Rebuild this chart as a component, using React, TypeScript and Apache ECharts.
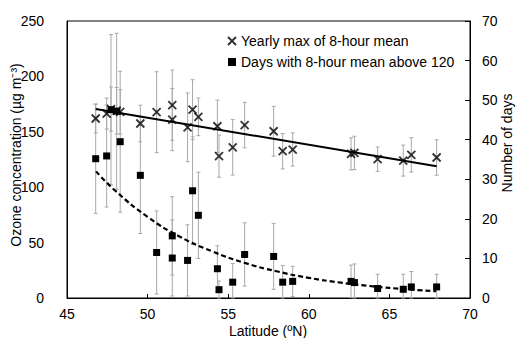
import React, { useEffect, useRef } from "react";
import * as echarts from "echarts";

// Station latitudes (°N)
const latitude = [46.78, 47.46, 47.73, 48.08, 48.3, 49.55, 50.56, 51.53, 51.53, 52.48, 52.79, 53.15, 54.33, 54.43, 55.28, 56.02, 57.82, 58.38, 59.0, 62.62, 62.83, 64.27, 65.86, 66.36, 67.93];
// Yearly max of 8-hour mean (µg m-3) and its error
const yearlyMax = [162, 166.5, 170.5, 169, 168, 157.5, 167.7, 174, 161, 154, 170, 163.5, 155, 128, 136, 156, 150.5, 132.5, 134, 130, 131, 125.3, 124, 129.2, 126.8];
const yearlyMaxErr = [13, 14, 20, 21, 20, 16.5, 36.5, 31.7, 28, 31, 27, 17, 23.6, 19, 25, 20.5, 22.5, 16, 15, 14.5, 15, 11, 14, 15.5, 16];
// Days with 8-hour mean above 120 and its error
const daysAbove = [35.2, 35.9, 47.6, 47.2, 39.5, 31.0, 11.5, 15.7, 10.1, 9.5, 27.1, 20.9, 7.4, 2.1, 4.0, 11.0, 10.5, 4.0, 4.2, 4.2, 3.9, 2.4, 2.2, 2.8, 2.8];
const daysAboveErr = [13.8, 12.9, 19, 19.7, 17.8, 14.7, 10.5, 9.9, 9.6, 9, 13.6, 10.9, 5.8, 2.2, 4.7, 8, 8.3, 4.2, 3.8, 4.1, 4.7, 3.6, 3.8, 3.9, 3.2];
// Linear trend of yearly max
const trendMaxLat = [46.78, 67.93];
const trendMaxVal = [170.5, 119];
// Exponential trend of days
const trendDaysLat = [46.8, 48, 50, 52, 54, 56, 58, 60, 62, 64, 66, 67.9];
const trendDaysVal = [32.0, 27.1, 20.5, 15.5, 11.8, 8.9, 6.75, 5.1, 3.87, 2.93, 2.22, 1.7];

const xTicks = { min: 45, max: 70, interval: 5 };
const leftTicks = { min: 0, max: 250, interval: 50 };
const rightTicks = { min: 0, max: 70, interval: 10 };

const FONT = "'Liberation Sans', Arial, sans-serif";
const NAME_MAX = "Yearly max of 8-hour mean";
const NAME_DAYS = "Days with 8-hour mean above 120";

function errorBarItem(params: any, api: any) {
  const x = api.value(0);
  const y = api.value(1);
  const e = api.value(2);
  const top = api.coord([x, y + e]);
  const bot = api.coord([x, Math.max(0, y - e)]);
  const hw = 2;
  const style = { stroke: "#a8a8a8", lineWidth: 1 };
  return {
    type: "group",
    children: [
      { type: "line", shape: { x1: top[0], y1: top[1], x2: bot[0], y2: bot[1] }, style },
      { type: "line", shape: { x1: top[0] - hw, y1: top[1], x2: top[0] + hw, y2: top[1] }, style },
      { type: "line", shape: { x1: bot[0] - hw, y1: bot[1], x2: bot[0] + hw, y2: bot[1] }, style },
    ],
  };
}

export default function App() {
  const ref = useRef<HTMLDivElement>(null);
  useEffect(() => {
    if (!ref.current) return;
    const chart = echarts.init(ref.current, null, { renderer: "svg" });
    const axisLabel = { fontSize: 14, color: "#000", fontFamily: FONT };
    chart.setOption({
      animation: false,
      backgroundColor: "#fff",
      grid: {
        left: 67, right: 46, top: 21, bottom: 40,
        show: true, borderColor: "#000", borderWidth: 1,
        containLabel: false,
      },
      legend: {
        left: 222, top: 29, orient: "vertical",
        itemWidth: 8, itemHeight: 8, itemGap: 7,
        textStyle: { fontSize: 14, color: "#000", fontFamily: FONT },
        data: [NAME_MAX, NAME_DAYS],
      },
      xAxis: {
        type: "value", ...xTicks,
        axisLine: { lineStyle: { color: "#000", width: 1 } },
        axisTick: { inside: true, length: 4, lineStyle: { color: "#000" } },
        axisLabel: { ...axisLabel, margin: 9 },
        splitLine: { show: false },
      },
      yAxis: [
        {
          type: "value", ...leftTicks,
          axisLine: { show: true, lineStyle: { color: "#000", width: 1 } },
          axisTick: { show: false },
          axisLabel: { ...axisLabel, margin: 23 },
          splitLine: { show: false },
        },
        {
          type: "value", ...rightTicks, position: "right",
          axisLine: { show: true, lineStyle: { color: "#000", width: 1 } },
          axisTick: { show: true, inside: true, length: 5, lineStyle: { color: "#000" } },
          axisLabel: { ...axisLabel, margin: 12 },
          splitLine: { show: false },
        },
      ],
      graphic: [
        { type: "text", x: 16, y: 155, rotation: Math.PI / 2, style: { text: "Ozone concentration (µg m⁻³)", fontSize: 14, fontFamily: FONT, fill: "#000", align: "center", verticalAlign: "middle" } },
        { type: "text", x: 507, y: 143, rotation: Math.PI / 2, style: { text: "Number of days", fontSize: 14, fontFamily: FONT, fill: "#000", align: "center", verticalAlign: "middle" } },
        { type: "text", x: 268, y: 331, style: { text: "Latitude (ºN)", fontSize: 14, fontFamily: FONT, fill: "#000", align: "center", verticalAlign: "middle" } },
      ],
      series: [
        {
          type: "custom", name: "errMax", yAxisIndex: 0, z: 1,
          renderItem: errorBarItem,
          data: latitude.map((x, i) => [x, yearlyMax[i], yearlyMaxErr[i]]),
        },
        {
          type: "custom", name: "errDays", yAxisIndex: 1, z: 1,
          renderItem: errorBarItem,
          data: latitude.map((x, i) => [x, daysAbove[i], daysAboveErr[i]]),
        },
        {
          type: "line", name: "trendMax", yAxisIndex: 0, z: 2,
          showSymbol: false, symbol: "none",
          lineStyle: { color: "#000", width: 2 },
          data: trendMaxLat.map((x, i) => [x, trendMaxVal[i]]),
        },
        {
          type: "line", name: "trendDays", yAxisIndex: 1, z: 2,
          showSymbol: false, symbol: "none", smooth: true,
          lineStyle: { color: "#000", width: 2.2, type: [5, 3] },
          data: trendDaysLat.map((x, i) => [x, trendDaysVal[i]]),
        },
        {
          type: "scatter", name: NAME_MAX, yAxisIndex: 0, z: 3,
          symbol: "path://M0,0L10,10M10,0L0,10", symbolSize: 8,
          itemStyle: { color: "#000", borderColor: "#000", borderWidth: 1.8 },
          data: latitude.map((x, i) => [x, yearlyMax[i]]),
        },
        {
          type: "scatter", name: NAME_DAYS, yAxisIndex: 1, z: 3,
          symbol: "rect", symbolSize: 7,
          itemStyle: { color: "#000", opacity: 1 },
          data: latitude.map((x, i) => [x, daysAbove[i]]),
        },
      ],
    });
    return () => chart.dispose();
  }, []);
  return <div ref={ref} style={{ width: 516, height: 338, position: "absolute", left: 0, top: 0 }} />;
}
